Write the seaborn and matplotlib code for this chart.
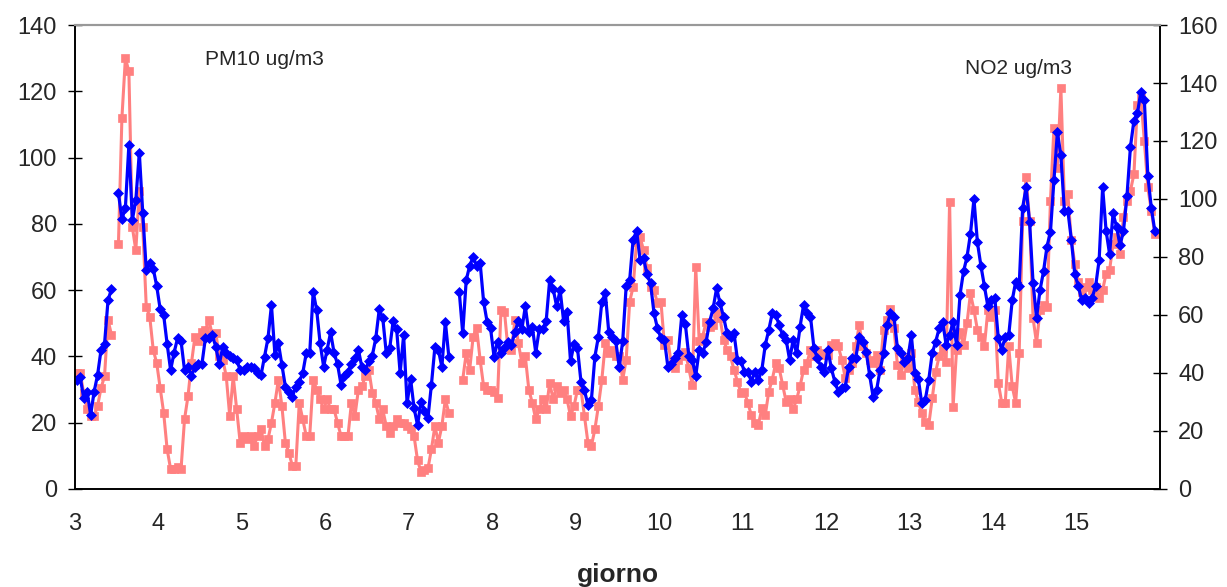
import numpy as np
import pandas as pd
import matplotlib
matplotlib.use('Agg')
import matplotlib.pyplot as plt
import seaborn as sns

nan = np.nan

# valori orari PM10 (ug/m3), un elenco per giorno
pm10_g03 = [35, 35, 29, 24, 22, 22, 25, 30.5, 34, 51, 46.5, nan, 74, 112, 130, 126, 79, 72, 90, 79, 55, 52, 42, 38]
pm10_g04 = [30.5, 23, 12, 6, 6, 6.5, 6, 21, 28, 38, 46, 44.5, 47.5, 48, 51, 46.5, 47, 40, 39, 34, 22, 34, 24, 14]
pm10_g05 = [16, 15, 16, 13, 16, 18, 13, 15, 20, 26, 33, 25, 14, 11, 7, 7, 26, 21, 16, 16, 33, 30, 27, 24]
pm10_g06 = [27, 24, 24, 20, 16, 16, 16, 26, 22, 30, 31, 34, 36, 29, 26, 21, 24, 19, 17, 19, 21, 20, 20, 19]
pm10_g07 = [18, 16, 8.7, 5.2, 5.7, 6.2, 12, 19, 14, 19, 27, 23, nan, nan, nan, 33, 41, 36, 46, 48.5, 39, 31, 30, 30]
pm10_g08 = [29.4, 27.4, 54, 53.5, 42.4, 42, 51, 44, 38, 40, 30, 26, 21, 24, 27, 24, 32, 27, 31, 29, 30, 27, 22, 25]
pm10_g09 = [30, 30, 22, 14, 13, 18, 25, 33, 44, 41, 42, 40, 40, 33, 39, 56.5, 61, 74.6, 76, 72, 66.6, 61, 60, 56]
pm10_g10 = [56.5, 43.4, 45, 37.4, 36.4, 39, 40, 41.4, 36.4, 31.4, 67, 44.5, 46, 50.5, 49, 49.5, 53, 51.5, 45, 42, 40, 36, 32.4, 29]
pm10_g11 = [29.4, 25.8, 22.3, 19.8, 19.3, 24.3, 22.3, 29.4, 33, 38, 36.4, 31.4, 26.3, 27, 24, 27, 31, 36, 38, 42, 40, 42, 41, 40.4]
pm10_g12 = [40.4, 43.4, 44, 43, 39, 33.4, 36, 38, 43, 49.5, 43, 41, 39, 38, 40.4, 36, 48, 51, 54.4, 48.5, 37.4, 34.4, 39.4, 36.4]
pm10_g13 = [41, 30, 26.3, 22.8, 20.3, 19.3, 27.4, 35.4, 40, 42.4, 38.4, 86.7, 24.8, 42, 47.5, 43.4, 50, 59, 54, 48, 46, 43, 54, 52]
pm10_g14 = [54, 32, 26, 26, 43, 31, 26, 41, 81, 94, 81, 51.5, 44, 54, 55.5, 55, 87, 109, 97, 121, 87, 89, 75, 68]
pm10_g15 = [62.5, 59.5, 61, 62.5, 60, 61, 57.5, 60, 65, 66, 74, 76, 71, 82, 87, 90, 95, 116, 118, 105, 91, 84, 77]

# valori orari NO2 (ug/m3)
no2_g03 = [37.6, 38.6, 31.4, 33.5, 25.5, 33.5, 39.3, 48, 50, 65, 69, nan, 102, 93, 97, 118.6, 92.8, 99.6, 116, 95, 75.5, 78, 76, 70]
no2_g04 = [62, 60, 50, 41, 47, 52, 51, 41, 42, 39, 42, 43, 43, 52, 52, 53, 49, 43, 49, 47, 46, 45, 44.5, 41]
no2_g05 = [41, 42, 42, 41.6, 40, 39.3, 45.6, 52, 63.4, 46.2, 50.2, 42.8, 35.3, 33.6, 31.8, 35.3, 37, 40, 46.8, 46.8, 68, 61.7, 50.2, 42.2]
no2_g06 = [48, 54, 47, 43, 36, 39, 40.5, 43, 45, 48, 42, 41, 44, 46, 52, 62, 59, 47, 48.5, 58, 55, 40, 53, 29.5]
no2_g07 = [38, 28, 22, 30, 27, 24.5, 36, 49, 48, 42, 57.7, 45.6, nan, nan, 68, 53.7, 72, 77, 80, 77, 78, 64.6, 57.7, 55.4]
no2_g08 = [45.6, 50.8, 46.8, 48.5, 50.8, 49.7, 54, 58, 55, 63, 54, 56, 47, 55, 55, 58, 72, 69, 63, 68.6, 58, 61, 44, 50]
no2_g09 = [48.5, 37, 34, 29, 30.7, 45.6, 52.5, 64.6, 67.5, 54, 52.5, 51, 42, 51, 70, 72, 86, 89, 79, 79.5, 74, 71, 60.6, 55.4]
no2_g10 = [52, 51.4, 42, 43, 45, 47, 60, 57, 46, 44.5, 39, 48, 46.8, 50.8, 57.7, 62.3, 69.2, 64, 59.4, 53.7, 52.5, 53.7, 44.5, 44]
no2_g11 = [40.5, 40.5, 37, 40.5, 37.6, 41, 49.7, 54.8, 60.6, 60, 56.5, 53, 51.4, 44.5, 51.4, 46.8, 56, 63.4, 60.6, 59.4, 48.5, 45, 42.2, 40.5]
no2_g12 = [48, 41.6, 37, 33.6, 34.7, 35.3, 42.2, 45, 45, 52.5, 50.8, 47.4, 39.3, 31.8, 34.1, 41, 46.8, 56.5, 60.6, 59.4, 48.5, 46.8, 43.9, 45]
no2_g13 = [53, 40, 38, 29.5, 30.7, 37.6, 46.8, 50.8, 55.4, 57.7, 49.7, 53, 57.7, 49.7, 67, 75, 80, 88, 100, 85, 77, 70, 63, 65]
no2_g14 = [66, 52, 48, 52.5, 53, 65, 71.5, 70, 97, 104, 92, 71, 59, 68.6, 75, 83.6, 88.7, 106.5, 123, 115, 96, 96, 86, 74]
no2_g15 = [70, 65, 66, 64, 66, 70, 79, 104, 89, 81, 95, 90.5, 84, 89, 101, 118, 127, 129.5, 137, 134, 108, 97, 89]

pm10 = (pm10_g03 + pm10_g04 + pm10_g05 + pm10_g06 + pm10_g07 + pm10_g08 + pm10_g09
        + pm10_g10 + pm10_g11 + pm10_g12 + pm10_g13 + pm10_g14 + pm10_g15)
no2 = (no2_g03 + no2_g04 + no2_g05 + no2_g06 + no2_g07 + no2_g08 + no2_g09
       + no2_g10 + no2_g11 + no2_g12 + no2_g13 + no2_g14 + no2_g15)

# asse x: giorno + ora/24, primo giorno = 3
giorno = 3 + (np.arange(len(pm10)) + 0.5) / 24


def tabella(valori):
    # divide la serie in tratti continui, cosi' i buchi restano vuoti
    s = pd.Series(valori, dtype=float)
    df = pd.DataFrame({'giorno': giorno, 'valore': s, 'tratto': s.isna().cumsum()})
    return df.dropna()


df_pm10 = tabella(pm10)
df_no2 = tabella(no2)

sns.set_style('white')
plt.rcParams['font.family'] = ['Liberation Sans', 'DejaVu Sans']

rosa = '#FF8080'
blu = '#0000FF'

fig = plt.figure(figsize=(12.27, 5.87), dpi=100)
ax = fig.add_axes([0.0611, 0.167, 0.8843, 0.7904])
ax2 = ax.twinx()

sns.lineplot(data=df_pm10, x='giorno', y='valore', units='tratto', estimator=None,
             color=rosa, marker='s', markersize=5.5, markeredgecolor=rosa,
             markeredgewidth=0.5, linewidth=2.2, ax=ax, legend=False)
sns.lineplot(data=df_no2, x='giorno', y='valore', units='tratto', estimator=None,
             color=blu, marker='D', markersize=5, markeredgecolor=blu,
             markeredgewidth=0.5, linewidth=2.3, ax=ax2, legend=False)

ax.set_xlim(3, 16)
ax.set_ylim(0, 140)
ax2.set_ylim(0, 160)
ax.set_xticks(range(3, 17))
ax.set_xticklabels([str(g) for g in range(3, 16)] + [''])
ax.set_yticks(range(0, 141, 20))
ax2.set_yticks(range(0, 161, 20))
ax.set_xlabel('')
ax.set_ylabel('')
ax2.set_ylabel('')

for a in (ax, ax2):
    for lato in ('left', 'right', 'bottom'):
        a.spines[lato].set_color('black')
        a.spines[lato].set_linewidth(1.2)
    a.spines['top'].set_color('#999999')
    a.spines['top'].set_linewidth(1.5)

ax.tick_params(axis='x', direction='inout', length=10, width=1, labelsize=17, pad=12, color='black')
ax.tick_params(axis='y', direction='inout', length=10, width=1, labelsize=17, pad=8, color='black')
ax2.tick_params(axis='y', direction='inout', length=10, width=1, labelsize=17, pad=8, color='black')

ax.text(4.56, 129.5, 'PM10 ug/m3', fontsize=15, va='center', ha='left')
ax.text(13.66, 127, 'NO2 ug/m3', fontsize=15, va='center', ha='left')

fig.text(618 / 1227, 1 - 575 / 587, 'giorno', fontsize=19, fontweight='bold',
         ha='center', va='center')

fig.savefig('out.png', dpi=100)
